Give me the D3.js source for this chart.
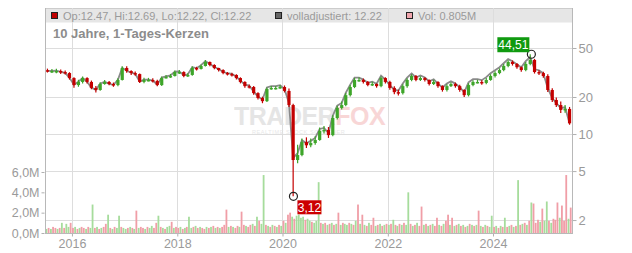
<!DOCTYPE html>
<html>
<head>
<meta charset="utf-8">
<script src="https://cdn.jsdelivr.net/npm/d3@7"></script>
<style>
  body { margin: 0; background: #fff; }
  svg { display: block; font-family: "Liberation Sans", Arial, sans-serif; }
</style>
</head>
<body>
<svg id="chart" width="632" height="253"></svg>
<script>
// monthly candles, Jul 2015 .. Jun 2025
var firstMonth = new Date(2015, 6, 1);

var closes = [
    32.5, 32.5, 32.5, 31.9, 31.3, 28.5,
    25.0, 26.5, 28.5, 26.5, 23.7, 22.8, 25.5, 26.5, 25.5, 25.0, 27.5, 34.4,
    32.5, 31.3, 30.7, 26.5, 27.5, 27.5, 27.0, 25.0, 28.5, 29.1, 29.6, 31.9,
    31.9, 29.6, 30.2, 34.4, 33.8, 35.7, 38.5, 36.4, 34.4, 33.1, 31.3, 30.7,
    30.2, 28.5, 26.5, 24.5, 24.1, 21.5, 19.6, 18.5, 23.2, 23.7, 23.7, 24.1,
    22.4, 17.2, 6.15, 6.75, 8.6, 8.1, 8.45, 8.95, 10.6, 10.8, 9.8, 13.5,
    16.3, 17.2, 20.7, 24.1, 27.5, 27.5, 26.5, 25.0, 25.5, 24.5, 28.5, 26.5,
    23.7, 21.9, 21.5, 24.5, 27.5, 29.6, 27.5, 28.5, 27.5, 25.5, 26.5, 24.5,
    22.8, 24.5, 25.5, 24.5, 22.8, 20.7, 25.0, 26.5, 26.5, 26.0, 27.5, 29.6,
    31.3, 33.1, 35.7, 38.5, 37.1, 34.9, 33.1, 37.1, 40.0, 31.9, 31.3, 29.6,
    22.8, 18.9, 17.2, 15.7, 16.0, 12.22
];

var highs = [
    34.0, 33.8, 33.9, 33.5, 32.8, 31.8,
    28.9, 27.6, 29.4, 29.0, 27.2, 24.6, 26.4, 27.5, 27.0, 26.2, 28.4, 35.5,
    35.6, 33.0, 32.2, 31.0, 28.6, 28.6, 28.4, 27.6, 29.4, 30.2, 30.8, 32.8,
    33.2, 32.4, 31.2, 35.5, 35.2, 36.8, 40.0, 38.9, 36.9, 34.6, 33.6, 31.9,
    31.5, 30.6, 28.9, 26.8, 25.3, 24.6, 21.9, 20.1, 23.9, 24.6, 24.6, 25.0,
    24.8, 23.4, 17.6, 8.2, 9.2, 9.4, 9.2, 9.6, 11.3, 11.6, 11.4, 14.2,
    17.0, 18.4, 21.5, 25.0, 28.6, 28.8, 28.3, 27.0, 26.6, 25.8, 29.4, 29.0,
    27.1, 24.4, 22.9, 25.4, 28.4, 30.6, 30.2, 29.5, 28.9, 27.8, 27.6, 26.9,
    24.9, 25.4, 26.4, 26.2, 25.2, 23.1, 25.9, 27.4, 27.6, 27.3, 28.5, 30.6,
    32.4, 34.2, 37.0, 39.8, 39.6, 37.8, 35.3, 38.4, 44.51, 40.8, 33.0, 32.0,
    30.6, 23.6, 19.8, 18.4, 17.2, 16.6
];

var lows = [
    31.6, 31.4, 31.2, 30.8, 30.4, 27.7,
    23.8, 24.2, 25.8, 25.8, 23.1, 21.8, 22.5, 25.2, 24.9, 24.2, 24.5, 27.2,
    31.5, 30.2, 29.8, 26.0, 25.9, 26.8, 26.2, 24.4, 24.6, 28.2, 28.6, 29.3,
    30.8, 28.9, 29.1, 29.8, 32.8, 33.4, 35.3, 35.6, 33.6, 32.2, 30.6, 29.9,
    29.3, 27.7, 25.8, 23.8, 23.4, 20.9, 19.1, 17.8, 18.2, 22.9, 23.0, 23.3,
    21.8, 16.6, 3.12, 5.8, 6.6, 7.7, 7.8, 8.2, 8.8, 10.1, 9.3, 9.6,
    13.1, 15.8, 16.8, 20.2, 23.6, 26.6, 25.8, 24.4, 24.6, 23.8, 24.0, 25.7,
    22.9, 21.1, 20.6, 21.0, 23.8, 26.8, 26.8, 27.0, 26.7, 24.8, 25.0, 23.8,
    22.1, 22.2, 24.1, 23.8, 22.1, 20.0, 20.2, 24.4, 25.8, 25.2, 25.4, 27.1,
    28.8, 30.6, 32.3, 34.9, 36.0, 33.9, 32.1, 32.4, 36.3, 31.0, 30.2, 28.6,
    22.0, 18.2, 16.6, 14.8, 14.9, 11.9
];

// "volladjustiert" line (grey)
var adjusted = [
    32.6, 32.6, 32.7, 32.0, 31.4, 28.6,
    25.1, 26.6, 28.6, 26.6, 23.8, 22.9, 25.6, 26.6, 25.6, 25.1, 27.6, 34.5,
    32.7, 31.5, 30.9, 26.7, 27.7, 27.7, 27.2, 25.2, 28.8, 29.4, 29.9, 32.2,
    32.3, 30.0, 30.6, 34.9, 34.3, 36.3, 39.1, 37.0, 35.0, 33.7, 31.9, 31.3,
    30.9, 29.2, 27.2, 25.2, 24.8, 22.1, 20.2, 19.1, 23.9, 24.5, 24.5, 24.9,
    23.2, 17.8, 6.4, 7.0, 8.9, 8.4, 8.8, 9.3, 11.0, 11.2, 10.2, 14.1,
    17.0, 17.9, 21.6, 25.2, 28.7, 28.7, 27.7, 26.1, 26.6, 25.6, 29.8, 27.7,
    24.8, 22.9, 22.5, 25.7, 28.8, 31.0, 28.8, 29.9, 28.8, 26.8, 27.8, 25.7,
    23.9, 25.7, 26.8, 25.7, 24.0, 21.8, 26.3, 27.9, 27.9, 27.4, 29.0, 31.2,
    33.0, 34.9, 37.6, 40.6, 39.1, 36.8, 34.9, 39.1, 42.2, 33.6, 33.0, 31.2,
    23.6, 19.6, 17.8, 16.3, 16.5, 12.22
];

// volume in millions, half-month steps from Jul 2015
var volumes = [
    0.4, 0.5, 0.4, 0.6, 0.5, 0.4, 0.5, 1.0, 0.5, 0.9, 0.6, 1.0,
    0.5, 0.6, 0.4, 0.5, 0.6, 0.5, 0.4, 0.6, 0.5, 2.8, 0.5, 0.6, 0.4, 0.5, 0.6, 0.9, 1.8, 0.5, 0.4, 0.6, 0.5, 1.7, 0.6, 0.5,
    0.4, 0.5, 0.6, 0.5, 0.4, 2.2, 0.5, 0.6, 0.5, 0.4, 0.6, 0.5, 0.7, 0.5, 1.0, 1.7, 0.6, 0.5, 0.4, 0.6, 0.7, 1.1, 0.5, 0.6,
    0.5, 0.6, 0.4, 0.5, 0.6, 1.6, 0.5, 0.6, 0.7, 0.5, 0.6, 0.5, 0.4, 0.6, 0.5, 0.6, 0.7, 0.5, 0.6, 0.5, 0.6, 0.8, 2.3, 0.6,
    0.7, 0.6, 0.5, 0.7, 0.6, 2.1, 0.8, 0.7, 0.6, 0.8, 0.9, 0.7, 1.6, 1.2, 0.9, 5.7, 0.8, 0.7, 0.6, 0.8, 0.7, 0.6, 0.8, 0.7,
    1.2, 1.0, 1.8, 2.0, 1.6, 1.4, 1.7, 1.8, 1.5, 1.6, 1.3, 1.4, 1.2, 1.1, 1.0, 1.2, 5.0, 1.0, 0.9, 1.0, 0.8, 0.9, 1.0, 0.8,
    0.9, 2.0, 0.8, 1.0, 0.9, 0.8, 1.0, 0.9, 0.8, 1.2, 2.8, 0.9, 1.8, 0.8, 0.7, 1.0, 0.8, 1.5, 0.7, 0.8, 0.9, 0.7, 0.8, 0.9,
    0.8, 0.9, 1.3, 0.8, 0.7, 0.9, 0.8, 1.0, 0.8, 4.0, 0.9, 0.7, 0.8, 1.0, 0.7, 2.6, 0.8, 0.9, 0.7, 0.8, 0.9, 0.7, 1.5, 0.8,
    0.7, 0.9, 1.2, 1.8, 0.8, 1.5, 0.7, 0.8, 0.9, 0.7, 0.8, 0.6, 0.7, 0.9, 0.8, 0.7, 0.8, 2.2, 0.7, 0.6, 0.8, 0.7, 0.6, 1.7,
    0.6, 0.7, 0.5, 0.7, 0.6, 1.5, 0.6, 0.7, 0.8, 0.6, 0.7, 5.2, 0.8, 0.9, 1.0, 0.8, 1.2, 3.0, 2.9, 1.0, 1.3, 1.1, 2.4, 1.2,
    3.1, 1.2, 1.0, 1.4, 1.3, 3.0, 1.5, 2.7, 1.2, 5.7, 1.4, 2.5
];
var volumeUpDown =
    "grgrrgrgrggr" +
    "rgrgrrgrggrgrgrrgrgrggrg" +
    "grgrgrgrrgrggrrgrgrggrgr" +
    "rgrgrggrgrgrrgrgrgrgrrrg" +
    "rgrrgrrgrrgrgrggrgrgrgrg" +
    "rgrrgrggggrggrgggrgrgrgr" +
    "grgrggrgrgrgrgrgrrgrgrgr" +
    "grgrgrgrggrgrgrrgrgrgrrg" +
    "rgrrgrgrgrgrgrgrgrgrgrgg" +
    "rgrgrgrgrgrgrgrgrgrrrgrg" +
    "grgrrrgrrrgr";

var priceTicks = [2, 5, 10, 20, 50];
var volumeTicks = [0, 2, 4, 6];
var legendItems = [
    { label: "Op:12.47, Hi:12.69, Lo:12.22, Cl:12.22", fill: "#c00000", x: 51 },
    { label: "volladjustiert: 12.22", fill: "#666666", x: 275 },
    { label: "Vol: 0.805M", fill: "#f0a6ae", x: 406 }
];
var title = "10 Jahre, 1-Tages-Kerzen";
var maxLabel = "44,51";
var minLabel = "3,12";

var RED = "#c40000", GREEN = "#3ea52a", VOL_RED = "#f09ea7", VOL_GREEN = "#a6dc9c";
var plotL = 45, plotR = 572, plotT = 8, plotB = 233;

var svg = d3.select("#chart");

var x = d3.scaleTime()
    .domain([new Date(2015, 5, 28), new Date(2025, 6, 2)])
    .range([plotL, plotR]);
var y = d3.scaleLog().domain([1.57, 105.7]).range([plotB, plotT]);
var yVol = d3.scaleLinear().domain([0, 6]).range([plotB, 172]);

function monthDate(i, day) {
    return new Date(firstMonth.getFullYear(), firstMonth.getMonth() + i, day);
}
function halfMonthDate(k) {
    return new Date(firstMonth.getFullYear(), firstMonth.getMonth() + Math.floor(k / 2), k % 2 ? 23 : 8);
}

// legend band behind grid
svg.append("rect")
    .attr("x", plotL).attr("y", plotT)
    .attr("width", plotR - plotL).attr("height", 14.5)
    .attr("fill", "#e6e6e6");
svg.append("line")
    .attr("x1", plotL).attr("x2", plotR).attr("y1", plotT + 0.5).attr("y2", plotT + 0.5)
    .attr("stroke", "#cccccc");

// grid
var yearTicks = x.ticks(d3.timeYear.every(2));
svg.append("g").selectAll("line")
    .data(yearTicks)
    .join("line")
    .attr("x1", d => Math.round(x(d)) + 0.5).attr("x2", d => Math.round(x(d)) + 0.5)
    .attr("y1", plotT).attr("y2", plotB)
    .attr("stroke", "#dddddd");
svg.append("g").selectAll("line")
    .data(priceTicks)
    .join("line")
    .attr("x1", plotL).attr("x2", plotR)
    .attr("y1", d => Math.round(y(d)) + 0.5).attr("y2", d => Math.round(y(d)) + 0.5)
    .attr("stroke", "#dddddd");

// watermark
var wm = svg.append("g").attr("opacity", 0.9);
var wmText = wm.append("text")
    .attr("x", 234).attr("y", 125)
    .attr("font-size", 25).attr("font-weight", "bold")
    .attr("letter-spacing", -0.5);
wmText.append("tspan").attr("fill", "#e3e3e3").text("TRADER");
wmText.append("tspan").attr("fill", "#f8d2d2").text("FOX");
wm.append("text")
    .attr("x", 252).attr("y", 134)
    .attr("font-size", 5.5).attr("fill", "#e6e6e6")
    .attr("letter-spacing", 0.6)
    .text("REALTIME STOCK SCREENER");

// legend
var legend = svg.append("g");
legendItems.forEach(item => {
    legend.append("rect")
        .attr("x", item.x + 0.5).attr("y", 12.5)
        .attr("width", 6).attr("height", 6)
        .attr("fill", item.fill).attr("stroke", "#222");
    legend.append("text")
        .attr("x", item.x + 12).attr("y", 19.5)
        .attr("font-size", 11).attr("fill", "#9a9a9a")
        .text(item.label);
});
svg.append("text")
    .attr("x", 53).attr("y", 38)
    .attr("font-size", 13).attr("font-weight", "bold").attr("fill", "#8c8c8c")
    .text(title);

// volume bars
svg.append("g").selectAll("rect")
    .data(volumes)
    .join("rect")
    .attr("x", (d, k) => x(halfMonthDate(k)) - 0.9)
    .attr("width", 1.8)
    .attr("y", d => yVol(d))
    .attr("height", d => plotB - yVol(d))
    .attr("fill", (d, k) => volumeUpDown[k] === "g" ? VOL_GREEN : VOL_RED);

// adjusted line
var line = d3.line()
    .x((d, i) => x(monthDate(i, 15)))
    .y(d => y(d));
svg.append("path")
    .datum(adjusted)
    .attr("d", line)
    .attr("fill", "none")
    .attr("stroke", "#8a8a8a")
    .attr("stroke-width", 1.8);

// candles
var candles = closes.map((c, i) => ({
    date: monthDate(i, 15),
    open: i === 0 ? 33.0 : closes[i - 1],
    close: c,
    high: highs[i],
    low: lows[i]
}));
var cg = svg.append("g");
cg.selectAll("line")
    .data(candles)
    .join("line")
    .attr("x1", d => x(d.date)).attr("x2", d => x(d.date))
    .attr("y1", d => y(d.high)).attr("y2", d => y(d.low))
    .attr("stroke", d => d.close >= d.open ? GREEN : RED)
    .attr("stroke-width", 1.2);
cg.selectAll("rect")
    .data(candles)
    .join("rect")
    .attr("x", d => x(d.date) - 1.6)
    .attr("width", 3.2)
    .attr("y", d => y(Math.max(d.open, d.close)))
    .attr("height", d => Math.max(1.5, Math.abs(y(d.open) - y(d.close))))
    .attr("fill", d => d.close >= d.open ? GREEN : RED);

// max / min markers
var iMax = d3.maxIndex(highs), iMin = d3.minIndex(lows);
var pMax = [x(monthDate(iMax, 23)), y(highs[iMax])];
var pMin = [x(monthDate(iMin, 17)), y(lows[iMin])];
svg.append("circle").attr("cx", pMax[0]).attr("cy", pMax[1]).attr("r", 4)
    .attr("fill", "none").attr("stroke", "#222").attr("stroke-width", 1.2);
svg.append("circle").attr("cx", pMin[0]).attr("cy", pMin[1]).attr("r", 4)
    .attr("fill", "none").attr("stroke", "#222").attr("stroke-width", 1.2);
svg.append("rect").attr("x", pMax[0] - 34).attr("y", pMax[1] - 17)
    .attr("width", 32).attr("height", 15).attr("fill", "#109a10");
svg.append("text").attr("x", pMax[0] - 18).attr("y", pMax[1] - 5)
    .attr("text-anchor", "middle").attr("font-size", 12).attr("fill", "#fff")
    .text(maxLabel);
svg.append("rect").attr("x", pMin[0] + 4).attr("y", pMin[1] + 4)
    .attr("width", 24).attr("height", 14).attr("fill", "#cc0000");
svg.append("text").attr("x", pMin[0] + 16).attr("y", pMin[1] + 15.5)
    .attr("text-anchor", "middle").attr("font-size", 12).attr("fill", "#fff")
    .text(minLabel);

// axes
function styleAxis(g, size) {
    g.select(".domain").remove();
    g.selectAll(".tick line").attr("stroke", "#b0b0b0");
    g.selectAll(".tick text")
        .attr("fill", "#9a9a9a")
        .attr("font-size", size)
        .attr("font-family", "Liberation Sans, Arial, sans-serif");
}

svg.append("g")
    .attr("transform", "translate(" + (plotR + 0.5) + ",0)")
    .call(d3.axisRight(y).tickValues(priceTicks).tickSize(4).tickPadding(2).tickFormat(d3.format("d")))
    .call(g => styleAxis(g, 13));

svg.append("g")
    .attr("transform", "translate(" + (plotL - 0.5) + ",0)")
    .call(d3.axisLeft(yVol).tickValues(volumeTicks).tickSize(3).tickPadding(2)
        .tickFormat(d => d3.format(".1f")(d).replace(".", ",") + "M"))
    .call(g => styleAxis(g, 12.5));

svg.append("g")
    .attr("transform", "translate(0," + (plotB + 0.5) + ")")
    .call(d3.axisBottom(x).tickValues(yearTicks).tickSize(3).tickPadding(3).tickFormat(d3.timeFormat("%Y")))
    .call(g => styleAxis(g, 12.5));

// frame lines
svg.append("line").attr("x1", plotL + 0.5).attr("x2", plotL + 0.5).attr("y1", plotT).attr("y2", plotB + 1)
    .attr("stroke", "#b8b8b8");
svg.append("line").attr("x1", plotR + 0.5).attr("x2", plotR + 0.5).attr("y1", plotT).attr("y2", plotB + 1)
    .attr("stroke", "#b8b8b8");
svg.append("line").attr("x1", plotL).attr("x2", plotR + 1).attr("y1", plotB + 0.5).attr("y2", plotB + 0.5)
    .attr("stroke", "#b8b8b8");
</script>
</body>
</html>
